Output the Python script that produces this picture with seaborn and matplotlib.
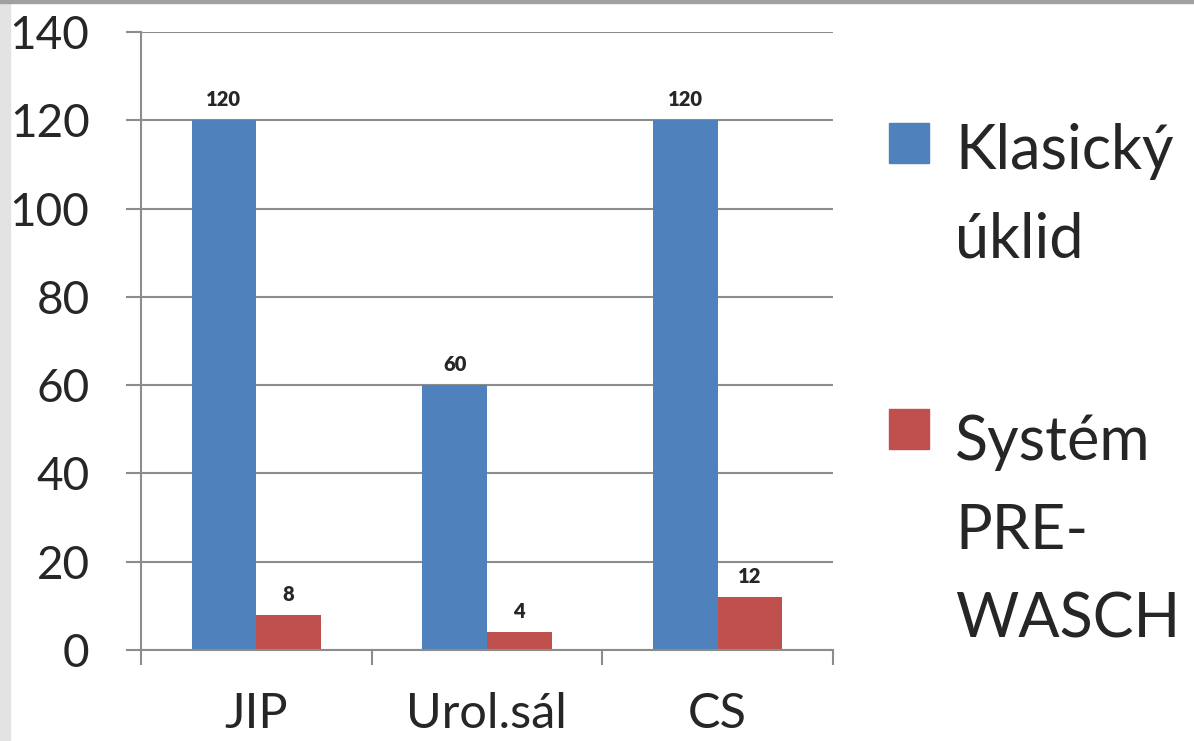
import matplotlib
matplotlib.use("Agg")
import matplotlib.pyplot as plt
import seaborn as sns
import pandas as pd
from matplotlib.patches import Rectangle

categories = ["JIP", "Urol.sál", "CS"]
series = ["Klasický\núklid", "Systém\nPRE-\nWASCH"]
klasicky = [120, 60, 120]
prewasch = [8, 4, 12]
colors = ["#4F81BD", "#C0504D"]

df = pd.DataFrame({
    "kategorie": categories * 2,
    "serie": [series[0]] * 3 + [series[1]] * 3,
    "hodnota": klasicky + prewasch,
})

sns.set_style("white")
plt.rcParams["font.family"] = ["Lato", "DejaVu Sans"]

W, H = 1194, 741
fig = plt.figure(figsize=(W / 100, H / 100), dpi=100)
ax = fig.add_axes([0.118, 0.1228, 0.5796, 0.834])

sns.barplot(data=df, x="kategorie", y="hodnota", hue="serie", palette=colors,
            saturation=1, width=0.56, gap=0, linewidth=0, ax=ax, legend=False)

for cont in ax.containers:
    ax.bar_label(cont, padding=8, fontsize=14.5, fontweight="heavy")

grid_c = "#8c8c8c"
ax.set_ylim(0, 140)
ax.set_xlim(-0.5, 2.5)
ax.set_yticks(range(0, 141, 20))
ax.yaxis.grid(True, color=grid_c, linewidth=1.5)
ax.set_axisbelow(True)
ax.set_xlabel("")
ax.set_ylabel("")
for s in ["top", "right"]:
    ax.spines[s].set_visible(False)
for s in ["left", "bottom"]:
    ax.spines[s].set_color(grid_c)
    ax.spines[s].set_linewidth(1.5)

ax.tick_params(axis="y", direction="out", length=11, width=1.5, color=grid_c,
               labelsize=33, pad=26, left=True)
ax.set_xticks([-0.5, 0.5, 1.5, 2.5], minor=True)
ax.tick_params(axis="x", which="minor", direction="out", length=11, width=1.5,
               color=grid_c, bottom=True)
ax.tick_params(axis="x", which="major", length=0, labelsize=35, pad=30)

# legend drawn by hand so the swatch sits at the first text line
# (square top, last-line baseline) in pixels
legend_rows = [(series[0], colors[0], 123, 258), (series[1], colors[1], 409, 638)]
for label, col, sq_top, baseline in legend_rows:
    fig.patches.append(Rectangle((889 / W, 1 - (sq_top + 40) / H), 40 / W, 40 / H,
                                 transform=fig.transFigure, color=col))
    fig.text(955 / W, 1 - baseline / H, label, fontsize=44, va="baseline",
             ha="left", linespacing=1.7)

# slide border strips
fig.patches.append(Rectangle((0, 0), 10 / W, 1, transform=fig.transFigure,
                             color="#e3e3e3", zorder=0))
fig.patches.append(Rectangle((0, 1 - 3 / H), 1, 3 / H, transform=fig.transFigure,
                             color="#a0a0a0", zorder=0))

fig.savefig("out.png", dpi=100)
